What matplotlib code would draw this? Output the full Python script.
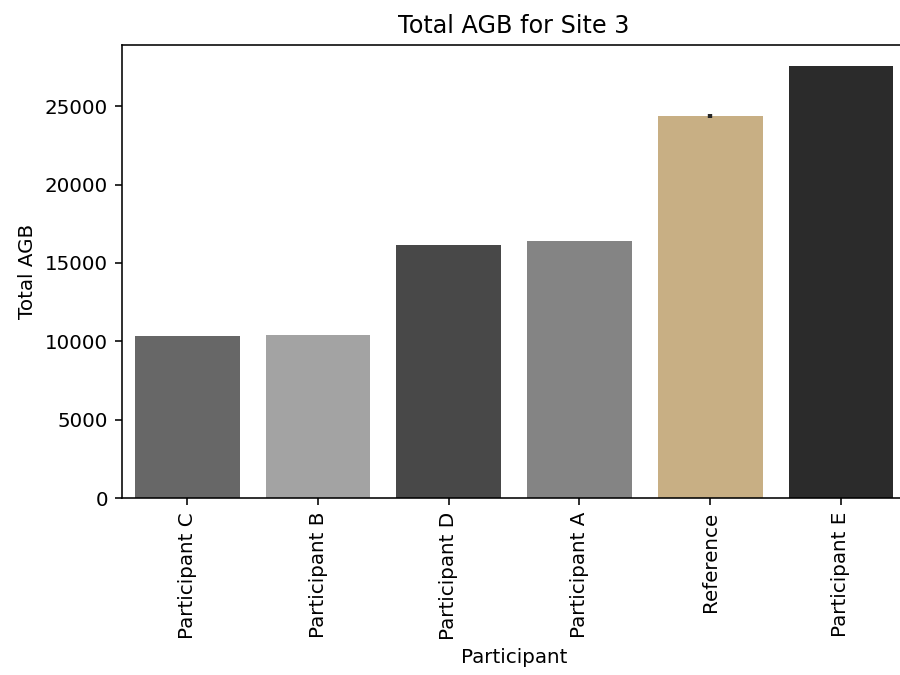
import matplotlib
matplotlib.use("Agg")
import matplotlib.pyplot as plt

# Data
participants = ["Participant C", "Participant B", "Participant D",
                "Participant A", "Reference", "Participant E"]
total_agb = [10330, 10390, 16130, 16380, 24370, 27550]
agb_err = [0, 0, 0, 0, 150, 0]
bar_colors = ["#676767", "#a3a3a3", "#484848", "#848484", "#c8af84", "#2b2b2b"]

dpi = 143
fig, ax = plt.subplots(figsize=(900 / dpi, 675 / dpi), dpi=dpi)

ax.bar(range(len(participants)), total_agb, width=0.8, color=bar_colors)
# error bar only on the reference bar
i_ref = participants.index("Reference")
ax.errorbar(i_ref, total_agb[i_ref], yerr=agb_err[i_ref], color="#262626",
            linewidth=2.2, capsize=0)

ax.set_xticks(range(len(participants)))
ax.set_xticklabels(participants, rotation=90)
ax.set_xlim(-0.5, len(participants) - 0.5)
ax.set_ylim(0, max(total_agb) * 1.05)
ax.set_xlabel("Participant")
ax.set_ylabel("Total AGB")
ax.set_title("Total AGB for Site 3")

fig.subplots_adjust(left=0.1355, right=1.007, top=0.934, bottom=0.262)
fig.savefig("out.png", dpi=dpi)
